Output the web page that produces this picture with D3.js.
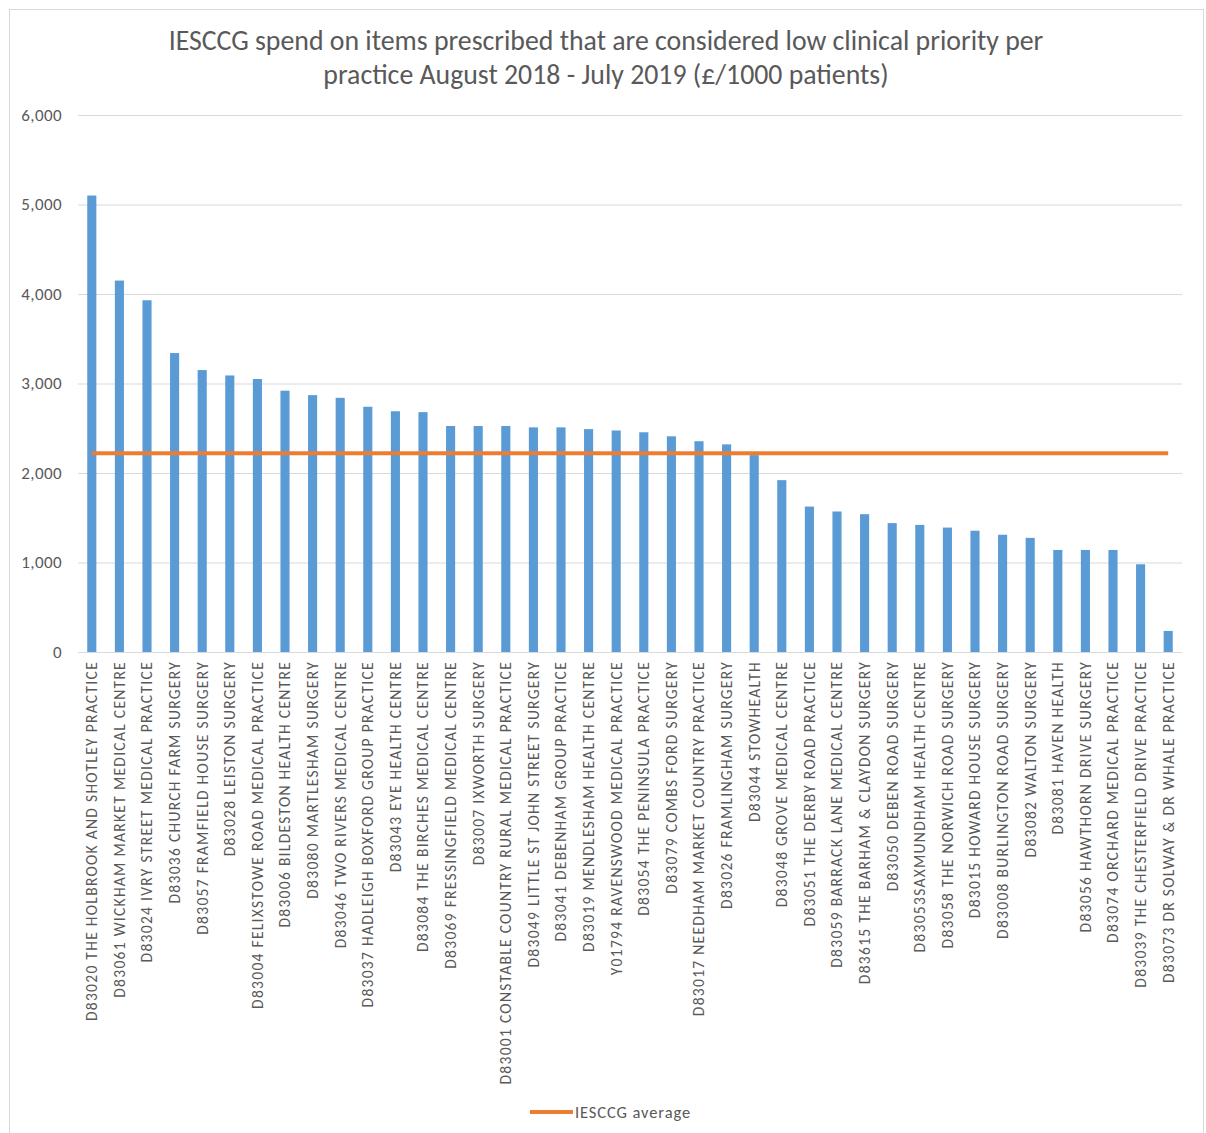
<!DOCTYPE html>
<html><head><meta charset="utf-8">
<script src="https://cdn.jsdelivr.net/npm/d3@7/dist/d3.min.js"></script>
<style>body{margin:0;background:#fff}svg{display:block}</style>
</head><body>
<script>
const practices = [
"D83020 THE HOLBROOK AND SHOTLEY PRACTICE",
"D83061 WICKHAM MARKET MEDICAL CENTRE",
"D83024 IVRY STREET MEDICAL PRACTICE",
"D83036 CHURCH FARM SURGERY",
"D83057 FRAMFIELD HOUSE SURGERY",
"D83028 LEISTON SURGERY",
"D83004 FELIXSTOWE ROAD MEDICAL PRACTICE",
"D83006 BILDESTON HEALTH CENTRE",
"D83080 MARTLESHAM SURGERY",
"D83046 TWO RIVERS MEDICAL CENTRE",
"D83037 HADLEIGH BOXFORD GROUP PRACTICE",
"D83043 EYE HEALTH CENTRE",
"D83084 THE BIRCHES MEDICAL CENTRE",
"D83069 FRESSINGFIELD MEDICAL CENTRE",
"D83007 IXWORTH SURGERY",
"D83001 CONSTABLE COUNTRY RURAL MEDICAL PRACTICE",
"D83049 LITTLE ST JOHN STREET SURGERY",
"D83041 DEBENHAM GROUP PRACTICE",
"D83019 MENDLESHAM HEALTH CENTRE",
"Y01794 RAVENSWOOD MEDICAL PRACTICE",
"D83054 THE PENINSULA PRACTICE",
"D83079 COMBS FORD SURGERY",
"D83017 NEEDHAM MARKET COUNTRY PRACTICE",
"D83026 FRAMLINGHAM SURGERY",
"D83044 STOWHEALTH",
"D83048 GROVE MEDICAL CENTRE",
"D83051 THE DERBY ROAD PRACTICE",
"D83059 BARRACK LANE MEDICAL CENTRE",
"D83615 THE BARHAM & CLAYDON SURGERY",
"D83050 DEBEN ROAD SURGERY",
"D83053SAXMUNDHAM HEALTH CENTRE",
"D83058 THE NORWICH ROAD SURGERY",
"D83015 HOWARD HOUSE SURGERY",
"D83008 BURLINGTON ROAD SURGERY",
"D83082 WALTON SURGERY",
"D83081 HAVEN HEALTH",
"D83056 HAWTHORN DRIVE SURGERY",
"D83074 ORCHARD MEDICAL PRACTICE",
"D83039 THE CHESTERFIELD DRIVE PRACTICE",
"D83073 DR SOLWAY & DR WHALE PRACTICE"
];
const spend = [5100,4150,3930,3340,3150,3090,3050,2920,2870,2840,2740,2690,2680,
2525,2525,2525,2510,2510,2490,2475,2455,2410,2355,2320,2200,1920,1625,1570,1540,
1440,1420,1390,1355,1310,1275,1140,1140,1140,980,235];
const average = 2220;
const yTicks = [0,1000,2000,3000,4000,5000,6000];
const titleLines = ["IESCCG spend on items prescribed that are considered low clinical priority per",
"practice August 2018 - July 2019 (£/1000 patients)"];
const legendLabel = "IESCCG average";

(function(){
const W = 1206, H = 1133;
const mL = 78, mR = 1182, mT = 115, mB = 652;
const font = "Calibri, Carlito, 'Liberation Sans', Arial, sans-serif";
const txt = "#595959";

const svg = d3.select("body").append("svg").attr("width", W).attr("height", H);
svg.append("rect").attr("x", 9.5).attr("y", 9.5).attr("width", 1194).attr("height", 1130)
  .attr("fill", "#fff").attr("stroke", "#d9d9d9");

const x = d3.scaleBand().domain(practices).range([mL, mR]).paddingInner(0.67).paddingOuter(0.335);
const y = d3.scaleLinear().domain([0, 6000]).range([mB, mT]);

svg.append("g").selectAll("text").data(titleLines).join("text")
  .attr("x", 606).attr("y", (d, i) => 50 + i * 34)
  .attr("text-anchor", "middle").attr("font-family", font).attr("font-size", 27.8)
  .attr("fill", txt).text(d => d);

const ya = d3.axisLeft(y).tickValues(yTicks).tickSize(-(mR - mL)).tickPadding(16)
  .tickFormat(d3.format(","));
const gy = svg.append("g").attr("transform", `translate(${mL},0)`).call(ya);
gy.select(".domain").remove();
gy.selectAll(".tick line").attr("stroke", "#d9d9d9").attr("stroke-width", 1);
gy.selectAll(".tick text").attr("font-family", font).attr("font-size", 17)
  .attr("letter-spacing", 0.4).attr("fill", txt);

svg.append("g").selectAll("rect").data(practices).join("rect")
  .attr("x", d => x(d)).attr("width", x.bandwidth())
  .attr("y", (d, i) => y(spend[i])).attr("height", (d, i) => y(0) - y(spend[i]))
  .attr("fill", "#5b9bd5");

const line = d3.line().x(d => x(d) + x.bandwidth() / 2).y(() => y(average));
svg.append("path").datum(practices).attr("d", line)
  .attr("fill", "none").attr("stroke", "#ed7d31").attr("stroke-width", 4);

const xa = d3.axisBottom(x).tickSize(0).tickPadding(0);
const gx = svg.append("g").attr("transform", `translate(0,${mB})`).call(xa);
gx.select(".domain").remove();
gx.selectAll(".tick text")
  .attr("transform", "rotate(-90)").attr("text-anchor", "end")
  .attr("x", -9).attr("y", 0).attr("dy", "0.35em")
  .attr("font-family", font).attr("font-size", 15.5).attr("letter-spacing", 1.3)
  .attr("fill", txt);

const lg = svg.append("g");
lg.append("line").attr("x1", 530).attr("x2", 573).attr("y1", 1112).attr("y2", 1112)
  .attr("stroke", "#ed7d31").attr("stroke-width", 4);
lg.append("text").attr("x", 575).attr("y", 1118).attr("font-family", font)
  .attr("font-size", 16.5).attr("letter-spacing", 0.9).attr("fill", txt).text(legendLabel);
})();
</script>
</body></html>
